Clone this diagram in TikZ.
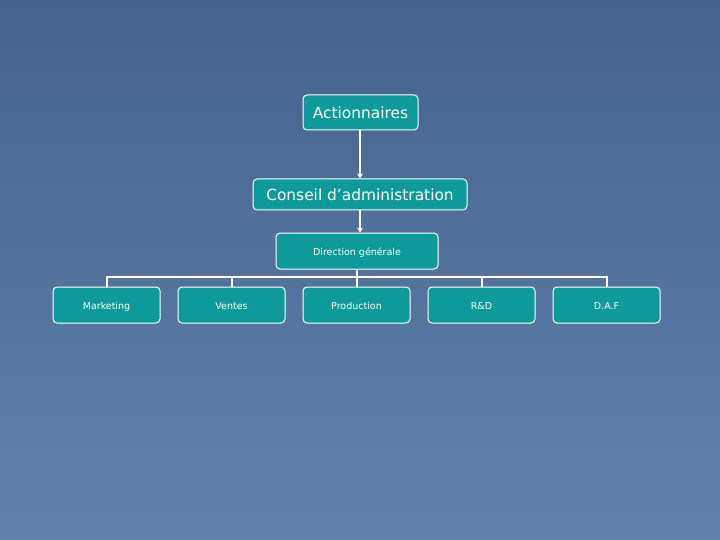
\documentclass[tikz,border=0pt]{standalone}
\usepackage{fontspec}
\setmainfont{DejaVu Sans}
\usetikzlibrary{arrows.meta}
\definecolor{bgtop}{HTML}{45638C}
\definecolor{bgbot}{HTML}{6082AC}
\definecolor{boxfill}{HTML}{0E9A98}
\begin{document}
\begin{tikzpicture}[x=1pt,y=-1pt,
  box/.style={draw=white, line width=1pt, fill=boxfill, rounded corners=4pt, text=white, inner sep=0pt},
  bigbox/.style={box, font=\fontsize{15.4}{18}\selectfont, text height=16pt, text depth=3pt},
  smallbox/.style={box, font=\fontsize{9.5}{11}\selectfont, text height=10pt, text depth=2pt},
  link/.style={draw=white, line width=2pt},
  arr/.style={draw=white, line width=1.2pt, -{Stealth[length=5pt,width=6pt]}}]
\useasboundingbox (0,0) rectangle (720,540);
\shade[top color=bgtop, bottom color=bgbot] (0,0) rectangle (720,540);
\node[bigbox, minimum width=115pt, minimum height=35pt] (act) at (360.5,112.5) {Actionnaires};
\node[bigbox, minimum width=214pt, minimum height=31pt] (cons) at (360,194.5) {Conseil d’administration};
\node[smallbox, minimum width=162pt, minimum height=36pt] (dir) at (357,251) {Direction générale};
\node[smallbox, minimum width=107pt, minimum height=36pt] (mkt) at (106.5,305) {Marketing};
\node[smallbox, minimum width=107pt, minimum height=36pt] (ven) at (231.5,305) {Ventes};
\node[smallbox, minimum width=107pt, minimum height=36pt] (prod) at (356.5,305) {Production};
\node[smallbox, minimum width=107pt, minimum height=36pt] (rd) at (481.5,305) {R\&D};
\node[smallbox, minimum width=107pt, minimum height=36pt] (daf) at (606.5,305) {D.A.F};
\draw[arr] (act.south -| cons.north) -- (cons.north);
\draw[arr] (cons.south) -- (cons.south |- dir.north);
\coordinate (bus) at (357,277);
\draw[link] (dir.south) -- (bus);
\draw[link] (mkt.north) -- (mkt.north |- bus) -- (daf.north |- bus) -- (daf.north);
\draw[link] (ven.north) -- (ven.north |- bus);
\draw[link] (prod.north) -- (prod.north |- bus);
\draw[link] (rd.north) -- (rd.north |- bus);
\end{tikzpicture}
\end{document}
